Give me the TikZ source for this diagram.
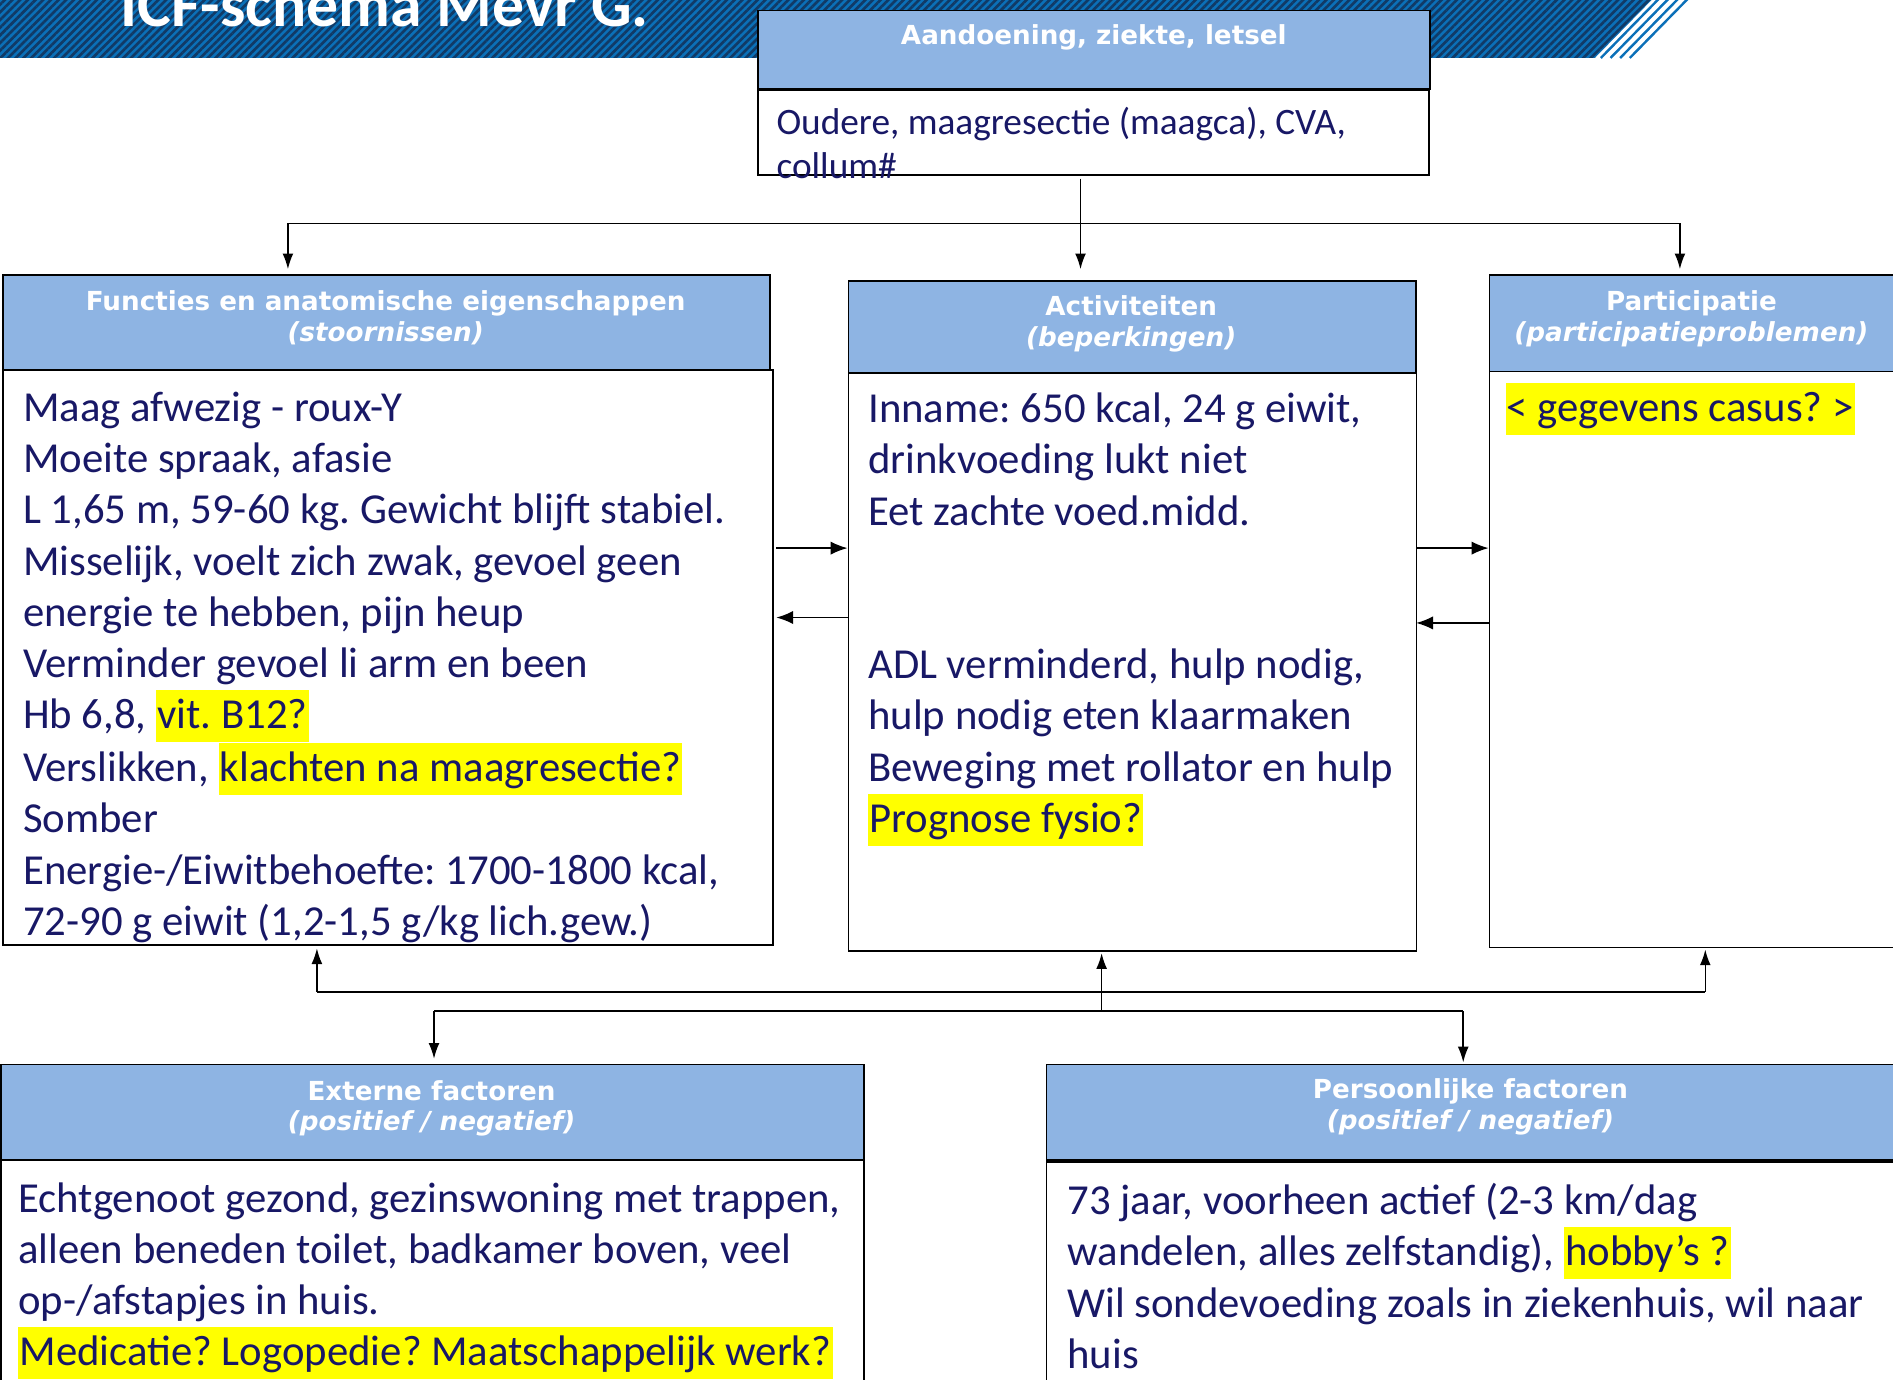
\documentclass[tikz,border=0pt]{standalone}
\usepackage{fontspec}
\setmainfont{Carlito}
\newfontfamily\hdrfont{DejaVu Sans}
\usetikzlibrary{arrows.meta,patterns.meta}
\definecolor{hdrblue}{HTML}{8EB4E3}
\definecolor{navytxt}{RGB}{24,24,102}
\definecolor{banblue}{HTML}{0B70B8}
\definecolor{bandark}{HTML}{113A66}
\definecolor{hly}{HTML}{FFFF00}
\newcommand\hlt[1]{{\setlength{\fboxsep}{0pt}\colorbox{hly}{\rule[-0.31em]{0pt}{1.21em}\kern1pt#1\kern1pt}}}
\newcommand\fstrut{\rule{0pt}{34pt}}
\newcommand\hstrut{\rule{0pt}{18pt}}
\frenchspacing
\begin{document}
\begin{tikzpicture}[x=1pt,y=-1pt,
  boxh/.style={draw=black,line width=1.5pt,fill=hdrblue,inner sep=0pt,anchor=north west},
  boxc/.style={draw=black,line width=1.5pt,fill=white,inner sep=0pt,anchor=north west},
  htxt/.style={text=white,font=\hdrfont\bfseries\fontsize{21.7}{25.5}\selectfont,align=center,inner sep=0pt,anchor=north},
  btxt/.style={text=navytxt,font=\frenchspacing\fontsize{35.4}{42.4}\selectfont,align=left,inner sep=0pt,anchor=north west},
  conn/.style={line width=1.3pt},
  arr/.style={line width=1.3pt,-{Latex[length=13pt,width=9pt]}},
  arrw/.style={line width=1.3pt,-{Latex[length=14pt,width=11pt]}}]
\path[use as bounding box, clip] (0,0) rectangle (1568,1143);
% banner
\fill[banblue] (0,-2) -- (1370,-2) -- (1321,48) -- (0,48) -- cycle;
\fill[pattern={Lines[angle=45,distance=4.5pt,line width=2.2pt]}, pattern color=bandark] (0,-2) -- (1370,-2) -- (1321,48) -- (0,48) -- cycle;
\foreach \k in {0,1,2,3} {\draw[banblue, line width=2pt] (1326+8*\k,48) -- (1375+8*\k,-2);}
\node[anchor=base west, text=white, font=\bfseries\fontsize{52.8}{60}\selectfont, inner sep=0pt] (title) at (100,22) {ICF-schema Mevr G.};
% boxes
\node[boxh, minimum width=557pt, minimum height=65pt] (aandh) at (627,8) {};
\node[boxc, minimum width=556pt, minimum height=70.5pt] (aandc) at (627,73.5) {};
\node[boxh, minimum width=635pt, minimum height=79pt] (funh) at (2,227) {};
\node[boxc, minimum width=637.5pt, minimum height=476pt] (func) at (2,306) {};
\node[boxh, minimum width=470pt, minimum height=76pt] (acth) at (702,232) {};
\node[boxc, minimum width=470.5pt, minimum height=479pt] (actc) at (702,308) {};
\node[boxh, minimum width=345pt, minimum height=80pt] (parh) at (1233,227) {};
\node[boxc, minimum width=345pt, minimum height=477pt] (parc) at (1233,307) {};
\node[boxh, minimum width=715pt, minimum height=79pt] (exth) at (0,881) {};
\node[boxc, minimum width=715pt, minimum height=250pt] (extc) at (0,960) {};
\node[boxh, minimum width=710pt, minimum height=79pt] (perh) at (866,881) {};
\node[boxc, minimum width=710pt, minimum height=250pt] (perc) at (866,962) {};
% connectors top
\coordinate (tA) at (895,148);
\coordinate (tL) at (238.5,185);
\coordinate (tR) at (1391.5,185);
\draw[conn] (tL) -- (tR);
\draw[arr, shorten >=9pt] (tA) -- (tA |- acth.north);
\draw[arr, shorten >=4pt] (tL) -- (tL |- funh.north);
\draw[arr, shorten >=4pt] (tR) -- (tR |- parh.north);
% middle arrows
\coordinate (m1) at (643,454);
\coordinate (m2) at (643,511.5);
\coordinate (m3) at (1173,454);
\coordinate (m4) at (1173,516);
\draw[arrw] (m1) -- (m1 -| actc.west);
\draw[arrw] (m2 -| actc.west) -- (m2);
\draw[arrw] (m3) -- (m3 -| parc.west);
\draw[arrw] (m4 -| parc.west) -- (m4);
% connectors bottom
\coordinate (bC) at (912.5,838);
\coordinate (bL) at (262.5,821.5);
\coordinate (bR) at (1412.5,821.5);
\coordinate (dL) at (359.5,837.5);
\coordinate (dR) at (1212,837.5);
\draw[conn] (bL) -- (bR);
\draw[conn] (dL) -- (dR);
\draw[arr, shorten >=1pt] (bC) -- (bC |- actc.south);
\draw[arr, shorten >=2pt] (bL) -- (bL |- func.south);
\draw[arr, shorten >=1pt] (bR) -- (bR |- parc.south);
\draw[arr, shorten >=4pt] (dL) -- (dL |- exth.north);
\draw[arr, shorten >=1pt] (dR) -- (dR |- perh.north);
% header texts
\node[htxt] (aandt) at (906,19) {\hstrut Aandoening, ziekte, letsel};
\node[htxt] (funt) at (319.5,239) {\hstrut Functies en anatomische eigenschappen\\\textit{(stoornissen)}};
\node[htxt] (actt) at (937,243) {\hstrut Activiteiten\\\textit{(beperkingen)}};
\node[htxt] (part) at (1401,239) {\hstrut Participatie\\\textit{(participatieproblemen)}};
\node[htxt] (extt) at (357.5,893) {\hstrut Externe factoren\\\textit{(positief / negatief)}};
\node[htxt] (pert) at (1218,892) {\hstrut Persoonlijke factoren\\\textit{(positief / negatief)}};
% body texts
\node[btxt, font=\frenchspacing\fontsize{30.9}{37}\selectfont] (aandtx) at (643,77) {\fstrut Oudere, maagresectie (maagca), CVA,\\collum\#};
\node[btxt] (funtx) at (19,315) {\fstrut Maag afwezig - roux-Y\\Moeite spraak, afasie\\L 1,65 m, 59-60 kg. Gewicht blijft stabiel.\\Misselijk, voelt zich zwak, gevoel geen\\energie te hebben, pijn heup\\Verminder gevoel li arm en been\\Hb 6,8, \hlt{vit. B12?}\\Verslikken, \hlt{klachten na maagresectie?}\\Somber\\Energie-/Eiwitbehoefte: 1700-1800 kcal,\\72-90 g eiwit (1,2-1,5 g/kg lich.gew.)};
\node[btxt] (acttx) at (719,316) {\fstrut Inname: 650 kcal, 24 g eiwit,\\drinkvoeding lukt niet\\Eet zachte voed.midd.\\\mbox{}\\\mbox{}\\ADL verminderd, hulp nodig,\\hulp nodig eten klaarmaken\\Beweging met rollator en hulp\\\hlt{Prognose fysio?}};
\node[btxt] (partx) at (1247,315) {\fstrut\hlt{< gegevens casus? >}};
\node[btxt] (exttx) at (15,970) {\fstrut Echtgenoot gezond, gezinswoning met trappen,\\alleen beneden toilet, badkamer boven, veel\\op-/afstapjes in huis.\\\hlt{Medicatie? Logopedie? Maatschappelijk werk?}};
\node[btxt] (pertx) at (884,972) {\fstrut 73 jaar, voorheen actief (2-3 km/dag\\wandelen, alles zelfstandig), \hlt{hobby’s ?}\\Wil sondevoeding zoals in ziekenhuis, wil naar\\huis};
\end{tikzpicture}
\end{document}
